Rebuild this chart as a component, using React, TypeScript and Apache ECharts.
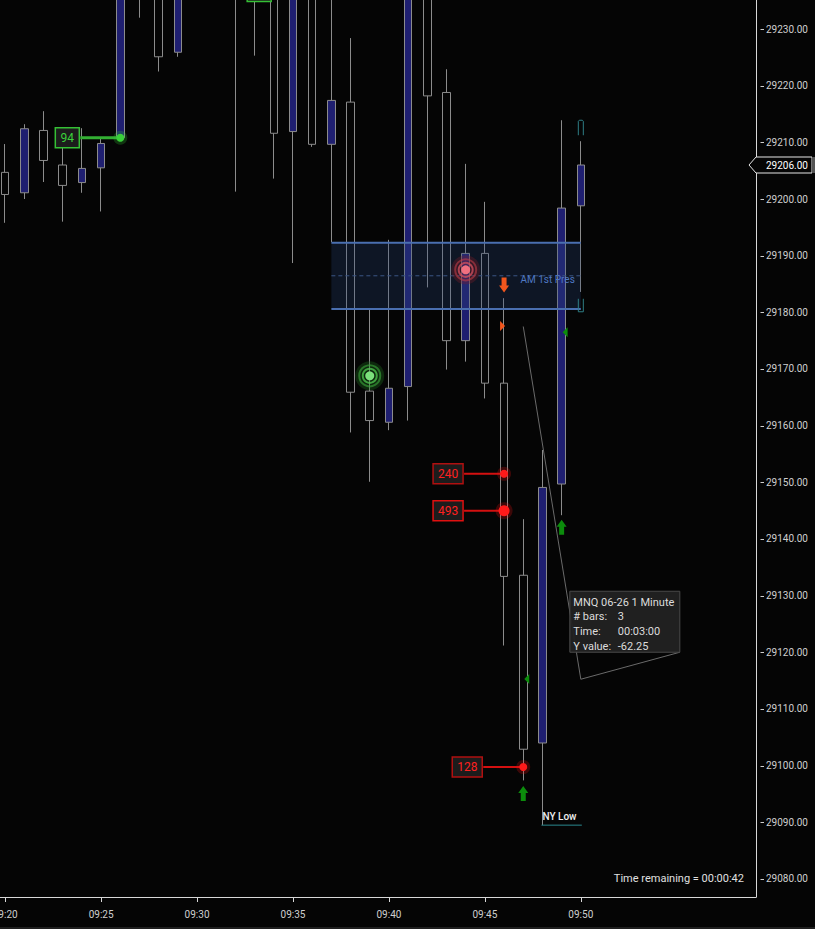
import React, { useEffect, useRef } from 'react';
import * as echarts from 'echarts';

// ---------- data ----------
const times = ['09:20', '09:21', '09:22', '09:23', '09:24', '09:25', '09:26', '09:27', '09:28', '09:29', '09:30', '09:31', '09:32', '09:33', '09:34', '09:35', '09:36', '09:37', '09:38', '09:39', '09:40', '09:41', '09:42', '09:43', '09:44', '09:45', '09:46', '09:47', '09:48', '09:49', '09:50'];
const opens = [29204.7, 29201.1, 29212.1, 29206.0, 29202.9, 29205.5, 29210.8, 29244.0, 29241.0, 29225.9, 29246.0, 29258.0, 29245.0, 29240.0, 29246.0, 29211.9, 29238.0, 29209.65, 29217.1, 29166.1, 29160.6, 29166.9, 29237.0, 29218.8, 29175.0, 29190.4, 29167.5, 29133.6, 29104.0, 29149.7, 29198.8];
const highs = [29209.7, 29213.2, 29215.5, 29210.5, 29212.5, 29210.7, 29248.0, 29252.0, 29246.0, 29250.0, 29262.0, 29266.0, 29254.0, 29250.0, 29250.0, 29242.0, 29241.0, 29238.0, 29228.4, 29180.6, 29192.8, 29242.0, 29240.0, 29222.9, 29206.2, 29199.5, 29182.5, 29143.5, 29155.7, 29213.9, 29210.2];
const lows = [29195.8, 29200.0, 29203.0, 29196.0, 29201.1, 29197.8, 29210.5, 29232.0, 29222.5, 29225.1, 29240.0, 29244.0, 29201.3, 29225.3, 29203.6, 29188.7, 29209.2, 29192.4, 29158.8, 29150.1, 29159.2, 29160.9, 29184.4, 29169.9, 29171.3, 29164.8, 29121.2, 29097.4, 29089.5, 29144.2, 29183.6];
const closes = [29200.8, 29212.4, 29206.8, 29202.4, 29205.4, 29209.8, 29244.0, 29240.0, 29225.1, 29246.0, 29258.0, 29248.0, 29240.0, 29246.0, 29211.6, 29238.0, 29209.65, 29217.4, 29165.9, 29160.9, 29166.6, 29238.0, 29218.2, 29175.0, 29190.4, 29167.5, 29133.4, 29102.9, 29149.1, 29198.4, 29206.0];

const xTickLabels = ['09:20', '09:25', '09:30', '09:35', '09:40', '09:45', '09:50'];
const yTickValues = [29080, 29090, 29100, 29110, 29120, 29130, 29140, 29150, 29160, 29170, 29180, 29190, 29200, 29210, 29220, 29230];
const xRange = [19.73, 59.13];
const yRange = [29076.82, 29235.12];
const lastPrice = 29206;

// [time, price, text, side]
const volumeTags: [string, number, string, string][] = [
  ['09:26', 29210.8, '94', 'buy'],
  ['09:36', 29236.6, '', 'buy'],
  ['09:46', 29151.5, '240', 'sell'],
  ['09:46', 29145.0, '493', 'sell'],
  ['09:47', 29099.75, '128', 'sell'],
];
const glowSignals: [string, number, string][] = [
  ['09:39', 29168.8, 'buy'],
  ['09:44', 29187.5, 'sell'],
];
const arrowSignals: [string, number, string][] = [
  ['09:47', 29096.4, 'up'],
  ['09:49', 29143.4, 'up'],
  ['09:46', 29183.5, 'down'],
];
const triangleMarks: [string, number, string][] = [
  ['09:46', 29177.6, 'right'],
  ['09:49', 29176.5, 'left'],
  ['09:47', 29115.3, 'left'],
];
const zoneStart = '09:37';
const zoneEnd = '09:50';
const zoneTop = 29192.3;
const zoneBottom = 29180.6;
const zoneMid = 29186.45;
const zoneLabel = 'AM 1st Pres';

const nyLowStart = '09:48';
const nyLowEnd = '09:50';
const nyLowPrice = 29089.5;
const nyLowLabel = 'NY Low';

const measureFrom: [string, number] = ['09:47', 29177.5];
const measureTo: [string, number] = ['09:50', 29115.25];
const measureRows: [string, string][] = [
  ['MNQ 06-26 1 Minute', ''],
  ['# bars:', '3'],
  ['Time:', '00:03:00'],
  ['Y value:', '-62.25'],
];
const bracketTime = '09:50';
const bracketHigh = 29213.9;
const bracketLow = 29180.1;
const timeRemaining = 'Time remaining = 00:00:42';

// ---------- helpers ----------
const toMin = (t: string) => {
  const [h, m] = t.split(':').map(Number);
  return (h - 9) * 60 + m;
};
const pad = (n: number) => (n < 10 ? '0' + n : '' + n);
const toLabel = (v: number) => {
  const r = Math.round(v);
  return pad(9 + Math.floor(r / 60)) + ':' + pad(r % 60);
};

const FONT = 'Roboto, "Noto Sans", sans-serif';

export default function App() {
  const ref = useRef<HTMLDivElement>(null);

  useEffect(() => {
    if (!ref.current) return;
    const chart = echarts.init(ref.current, null, { renderer: 'svg' });
    const candleData = times.map((t, i) => [toMin(t), opens[i], closes[i], lows[i], highs[i]]);
    const xTicks = xTickLabels.map(toMin);

    chart.setOption({
      animation: false,
      backgroundColor: '#050505',
      textStyle: { fontFamily: FONT },
      grid: { left: 0, top: 0, right: 59, bottom: 32, containLabel: false, outerBoundsMode: 'none' },
      xAxis: {
        type: 'value',
        min: xRange[0],
        max: xRange[1],
        axisLine: { show: true, lineStyle: { color: '#d8d8d8', width: 1 } },
        axisTick: { show: true, customValues: xTicks, length: 5, lineStyle: { color: '#d8d8d8' } },
        axisLabel: { customValues: xTicks, formatter: (v: number) => toLabel(v), color: '#cfcfcf', fontSize: 10, fontFamily: FONT, margin: 12 },
        splitLine: { show: false },
      },
      yAxis: {
        type: 'value',
        position: 'right',
        min: yRange[0],
        max: yRange[1],
        axisLine: { show: true, lineStyle: { color: '#d8d8d8', width: 1 } },
        axisTick: { show: false },
        axisLabel: { customValues: yTickValues, formatter: (v: number) => v.toFixed(2), color: '#cfcfcf', fontSize: 10, fontFamily: FONT, margin: 10 },
        splitLine: { show: false },
      },
      series: [
        {
          type: 'candlestick',
          data: candleData,
          encode: { x: 0, y: [1, 2, 3, 4] },
          barWidth: 8,
          clip: true,
          itemStyle: {
            color: '#1f1f70',
            color0: '#050505',
            borderColor: '#8c8c8c',
            borderColor0: '#8c8c8c',
            borderColorDoji: '#8c8c8c',
            borderWidth: 1,
          },
        },
      ],
    });

    const p = (t: string | number, price: number) => {
      const xv = typeof t === 'string' ? toMin(t) : t;
      return chart.convertToPixel({ gridIndex: 0 }, [xv, price]) as number[];
    };
    const axisX = p(xRange[1], yRange[0])[0];
    const axisBottom = p(xRange[0], yRange[0])[1];

    const g: any[] = [];
    const Z = 10;

    // zone
    {
      const a = p(zoneStart, zoneTop);
      const b = p(zoneEnd, zoneBottom);
      const m = p(zoneEnd, zoneMid);
      g.push({ type: 'rect', z: Z, shape: { x: a[0], y: a[1], width: b[0] - a[0], height: b[1] - a[1] }, style: { fill: 'rgba(40,70,125,0.27)' } });
      g.push({ type: 'line', z: Z, shape: { x1: a[0], y1: a[1], x2: b[0], y2: a[1] }, style: { stroke: '#4a6fb0', lineWidth: 2 } });
      g.push({ type: 'line', z: Z, shape: { x1: a[0], y1: b[1], x2: b[0], y2: b[1] }, style: { stroke: '#4a6fb0', lineWidth: 2 } });
      g.push({ type: 'line', z: Z, shape: { x1: a[0], y1: m[1], x2: b[0], y2: m[1] }, style: { stroke: '#3b5585', lineWidth: 1, lineDash: [4, 3] } });
      g.push({ type: 'text', z: Z, x: b[0] - 6, y: m[1] + 4, style: { text: zoneLabel, fill: '#4f78c2', font: `10px ${FONT}`, textAlign: 'right', textVerticalAlign: 'middle' } });
    }

    // glow signals
    glowSignals.forEach(([t, price, side]) => {
      const [x, y] = p(t, price);
      const buy = side === 'buy';
      const c1 = buy ? 'rgba(30,110,30,0.35)' : 'rgba(120,30,40,0.35)';
      const c2 = buy ? 'rgba(60,170,60,0.6)' : 'rgba(190,60,70,0.6)';
      const c3 = buy ? 'rgba(80,200,80,0.75)' : 'rgba(215,80,95,0.75)';
      const c4 = buy ? '#7ce07c' : '#f07080';
      g.push({ type: 'circle', z: Z, shape: { cx: x, cy: y, r: 14.5 }, style: { fill: c1 } });
      g.push({ type: 'circle', z: Z, shape: { cx: x, cy: y, r: 10.5 }, style: { fill: 'none', stroke: c2, lineWidth: 2 } });
      g.push({ type: 'circle', z: Z, shape: { cx: x, cy: y, r: 7 }, style: { fill: 'none', stroke: c3, lineWidth: 2 } });
      g.push({ type: 'circle', z: Z, shape: { cx: x, cy: y, r: 4.5 }, style: { fill: c4 } });
    });

    // volume tags
    volumeTags.forEach(([t, price, text, side]) => {
      const [x, y] = p(t, price);
      const buy = side === 'buy';
      const col = buy ? '#35c035' : '#e01010';
      const big = Number(text) > 300;
      const r = big ? 5.5 : 4;
      const w = text.length > 2 ? 30 : 24;
      const h = 20;
      const right = x - 41;
      g.push({ type: 'line', z: Z, shape: { x1: right + 1, y1: y, x2: x, y2: y }, style: { stroke: buy ? '#33b033' : '#d41010', lineWidth: buy ? 3 : 2 } });
      g.push({ type: 'circle', z: Z, shape: { cx: x, cy: y, r: r + 3 }, style: { fill: buy ? 'rgba(50,200,50,0.25)' : 'rgba(230,20,20,0.25)' } });
      g.push({ type: 'circle', z: Z, shape: { cx: x, cy: y, r }, style: { fill: buy ? '#3ad03a' : '#ff1a1a' } });
      g.push({ type: 'rect', z: Z, shape: { x: right - w, y: y - h / 2, width: w, height: h }, style: { fill: '#1c1c1c', stroke: big || buy ? col : '#b01010', lineWidth: 1.5 } });
      if (text) {
        g.push({ type: 'text', z: Z, x: right - w / 2, y: y, style: { text, fill: buy ? '#3ad03a' : '#ff2020', font: `12px ${FONT}`, textAlign: 'center', textVerticalAlign: 'middle' } });
      }
    });

    // arrows
    arrowSignals.forEach(([t, price, dir]) => {
      const [x, y] = p(t, price);
      const up = dir === 'up';
      const s = up ? 1 : -1;
      const pts = [
        [x, y], [x + 5, y + 7 * s], [x + 2.5, y + 7 * s], [x + 2.5, y + 15 * s], [x - 2.5, y + 15 * s], [x - 2.5, y + 7 * s], [x - 5, y + 7 * s],
      ];
      g.push({ type: 'polygon', z: Z, shape: { points: pts }, style: { fill: up ? '#0c8c0c' : '#f2561d' } });
    });

    // triangles
    triangleMarks.forEach(([t, price, dir]) => {
      const [cx, y] = p(t, price);
      const x = cx + 1;
      const pts = dir === 'right'
        ? [[x - 5, y - 5], [x, y], [x - 5, y + 5]]
        : [[x, y], [x + 5, y - 5], [x + 5, y + 5]];
      g.push({ type: 'polygon', z: Z, shape: { points: pts }, style: { fill: dir === 'right' ? '#f2561d' : '#0c8c0c' } });
    });

    // bracket
    {
      const [x, yt] = p(bracketTime, bracketHigh);
      const yb = p(bracketTime, bracketLow)[1];
      g.push({ type: 'polyline', z: Z, shape: { points: [[x - 2.5, yt + 15], [x - 2.5, yt + 1], [x - 1.5, yt], [x + 1.5, yt], [x + 2.5, yt + 1], [x + 2.5, yt + 15]] }, style: { stroke: '#2f7f86', lineWidth: 1, fill: 'none' } });
      g.push({ type: 'polyline', z: Z, shape: { points: [[x - 2.5, yb - 13], [x - 2.5, yb], [x + 2.5, yb], [x + 2.5, yb - 13]] }, style: { stroke: '#2f7f86', lineWidth: 1, fill: 'none' } });
    }

    // NY Low
    {
      const a = p(nyLowStart, nyLowPrice);
      const b = p(nyLowEnd, nyLowPrice);
      g.push({ type: 'line', z: Z, shape: { x1: a[0] - 1, y1: a[1], x2: b[0] + 1, y2: a[1] }, style: { stroke: '#2b8a8f', lineWidth: 1 } });
      g.push({ type: 'text', z: Z, x: a[0], y: a[1] - 9, style: { text: nyLowLabel, fill: '#f0f0f0', font: `500 10px ${FONT}`, textAlign: 'left', textVerticalAlign: 'middle' } });
    }

    // measure tool
    {
      const a = p(measureFrom[0], measureFrom[1]);
      const b = p(measureTo[0], measureTo[1]);
      const e = [b[0] + 99, b[1] - 27];
      g.push({ type: 'polyline', z: Z, shape: { points: [a, b, e] }, style: { stroke: '#6a6a6a', lineWidth: 1, fill: 'none' } });
      const bx = e[0] - 110;
      const by = e[1] - 61;
      g.push({ type: 'rect', z: Z, shape: { x: bx, y: by, width: 110, height: 61 }, style: { fill: 'rgba(34,34,34,0.95)', stroke: '#4a4a4a', lineWidth: 1 } });
      measureRows.forEach(([k, v], i) => {
        const ty = by + 11 + i * 14.6;
        g.push({ type: 'text', z: Z, x: bx + 3.5, y: ty, style: { text: k, fill: '#dcdcdc', font: `11px ${FONT}`, textVerticalAlign: 'middle' } });
        if (v) g.push({ type: 'text', z: Z, x: bx + 48, y: ty, style: { text: v, fill: '#dcdcdc', font: `11px ${FONT}`, textVerticalAlign: 'middle' } });
      });
    }

    // y tick dashes
    yTickValues.forEach((v) => {
      const y = Math.round(p(xRange[1], v)[1]) + 0.5;
      g.push({ type: 'line', z: Z, shape: { x1: axisX + 4.5, y1: y, x2: axisX + 8, y2: y }, style: { stroke: '#cfcfcf', lineWidth: 1 } });
    });

    // current price label
    {
      const y = p(xRange[1], lastPrice)[1];
      g.push({ type: 'polygon', z: Z + 1, shape: { points: [[axisX - 7, y], [axisX, y - 8], [axisX + 56, y - 8], [axisX + 56, y + 8], [axisX, y + 8]] }, style: { fill: '#050505', stroke: '#e6e6e6', lineWidth: 1 } });
      g.push({ type: 'rect', z: Z + 1, shape: { x: axisX + 56, y: y - 8, width: 3, height: 16 }, style: { fill: '#555' } });
      g.push({ type: 'text', z: Z + 2, x: axisX + 10, y, style: { text: lastPrice.toFixed(2), fill: '#ffffff', font: `10px ${FONT}`, textVerticalAlign: 'middle' } });
    }

    // time remaining
    g.push({ type: 'text', z: Z, x: axisX - 12, y: axisBottom - 19, style: { text: timeRemaining, fill: '#e0e0e0', font: `11px ${FONT}`, textAlign: 'right', textVerticalAlign: 'middle' } });

    // bottom frame line
    g.push({ type: 'line', z: Z, shape: { x1: 0, y1: 928, x2: 815, y2: 928 }, style: { stroke: '#3a3a3a', lineWidth: 1 } });

    chart.setOption({ graphic: g });

    return () => chart.dispose();
  }, []);

  return (
    <div
      ref={ref}
      style={{ position: 'fixed', left: 0, top: 0, width: 815, height: 929, background: '#050505' }}
    />
  );
}
